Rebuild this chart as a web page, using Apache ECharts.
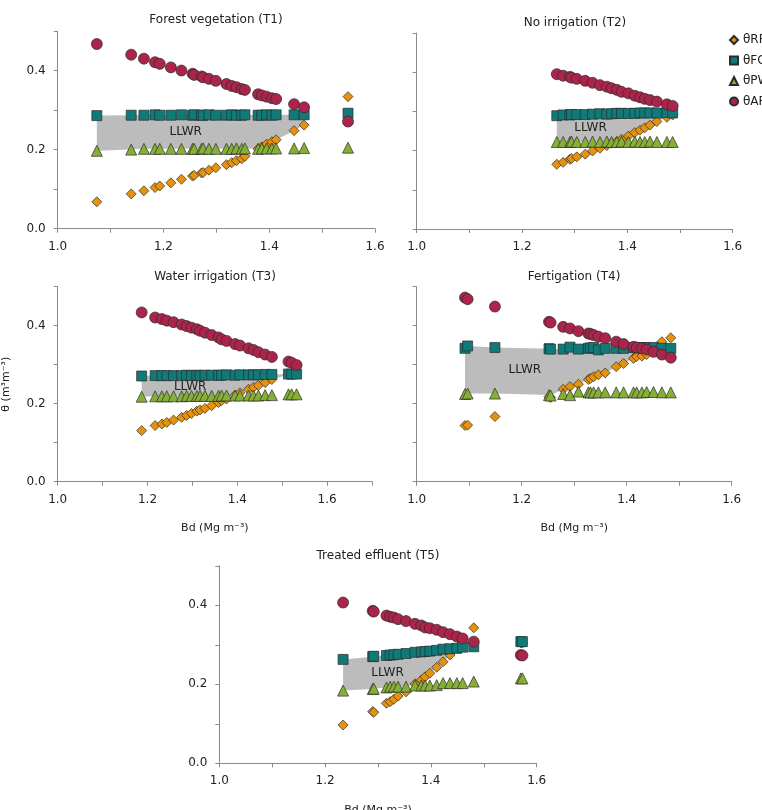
<!DOCTYPE html>
<html>
<head>
<meta charset="utf-8">
<script src="https://cdn.jsdelivr.net/npm/echarts@6/dist/echarts.min.js"></script>
<style>
  html, body { margin: 0; padding: 0; background: #fff; }
  #chart { width: 762px; height: 810px; }
</style>
</head>
<body>
<div id="chart"></div>
<script>
// values (Bd in Mg m-3, theta in m3 m-3)
const legendNames = ["θRP", "θFC", "θPWP", "θAP"];
const panelTitles = ["Forest vegetation (T1)", "No irrigation (T2)", "Water irrigation (T3)", "Fertigation (T4)", "Treated effluent (T5)"];

// T1
const bdT1 = [1.074, 1.139, 1.163, 1.184, 1.193, 1.214, 1.234, 1.255, 1.258, 1.272, 1.275, 1.286, 1.299, 1.319, 1.329, 1.338, 1.348, 1.354, 1.379, 1.386, 1.395, 1.405, 1.413, 1.447, 1.466, 1.549];
const rpT1 = [0.068, 0.088, 0.096, 0.104, 0.108, 0.116, 0.125, 0.133, 0.135, 0.141, 0.142, 0.148, 0.154, 0.162, 0.167, 0.172, 0.177, 0.183, 0.202, 0.207, 0.214, 0.220, 0.225, 0.248, 0.262, 0.334];
const fcT1 = [0.286, 0.287, 0.287, 0.288, 0.287, 0.287, 0.288, 0.287, 0.288, 0.287, 0.287, 0.288, 0.287, 0.287, 0.288, 0.287, 0.287, 0.288, 0.287, 0.287, 0.288, 0.287, 0.288, 0.288, 0.288, 0.292];
const pwpT1 = [0.197, 0.200, 0.202, 0.202, 0.202, 0.202, 0.202, 0.202, 0.202, 0.202, 0.203, 0.202, 0.202, 0.202, 0.202, 0.203, 0.202, 0.203, 0.202, 0.203, 0.203, 0.203, 0.203, 0.203, 0.204, 0.205];
const apT1 = [0.467, 0.440, 0.430, 0.421, 0.417, 0.408, 0.400, 0.392, 0.389, 0.385, 0.383, 0.379, 0.374, 0.366, 0.361, 0.358, 0.353, 0.351, 0.340, 0.337, 0.334, 0.330, 0.328, 0.315, 0.307, 0.271];

// T2
const bdT2 = [1.266, 1.278, 1.291, 1.294, 1.304, 1.320, 1.334, 1.348, 1.361, 1.370, 1.380, 1.389, 1.402, 1.414, 1.424, 1.433, 1.443, 1.456, 1.475, 1.486];
const rpT2 = [0.165, 0.170, 0.178, 0.180, 0.184, 0.191, 0.199, 0.206, 0.213, 0.219, 0.223, 0.229, 0.237, 0.246, 0.252, 0.258, 0.265, 0.274, 0.285, 0.291];
const fcT2 = [0.289, 0.291, 0.291, 0.292, 0.292, 0.292, 0.293, 0.294, 0.293, 0.294, 0.295, 0.295, 0.295, 0.295, 0.296, 0.296, 0.296, 0.296, 0.297, 0.296];
const pwpT2 = [0.222, 0.222, 0.222, 0.223, 0.222, 0.222, 0.223, 0.222, 0.223, 0.222, 0.222, 0.223, 0.222, 0.223, 0.222, 0.222, 0.223, 0.222, 0.222, 0.222];
const apT2 = [0.395, 0.391, 0.388, 0.386, 0.383, 0.378, 0.373, 0.367, 0.363, 0.359, 0.355, 0.350, 0.346, 0.340, 0.336, 0.332, 0.329, 0.325, 0.318, 0.314];

// T3
const bdT3 = [1.187, 1.217, 1.232, 1.243, 1.258, 1.276, 1.287, 1.298, 1.310, 1.317, 1.328, 1.343, 1.358, 1.365, 1.376, 1.395, 1.406, 1.425, 1.436, 1.447, 1.462, 1.477, 1.514, 1.521, 1.532];
const rpT3 = [0.131, 0.144, 0.148, 0.152, 0.158, 0.165, 0.170, 0.175, 0.181, 0.184, 0.188, 0.195, 0.203, 0.208, 0.212, 0.222, 0.228, 0.237, 0.242, 0.247, 0.254, 0.262, 0.274, 0.275, 0.276];
const fcT3 = [0.271, 0.272, 0.272, 0.272, 0.272, 0.272, 0.273, 0.272, 0.273, 0.272, 0.273, 0.273, 0.273, 0.273, 0.274, 0.273, 0.274, 0.274, 0.274, 0.274, 0.275, 0.275, 0.276, 0.276, 0.276];
const pwpT3 = [0.218, 0.219, 0.219, 0.219, 0.219, 0.219, 0.220, 0.220, 0.220, 0.220, 0.220, 0.220, 0.220, 0.221, 0.221, 0.221, 0.221, 0.221, 0.221, 0.221, 0.222, 0.222, 0.224, 0.224, 0.224];
const apT3 = [0.434, 0.421, 0.417, 0.413, 0.409, 0.403, 0.399, 0.395, 0.391, 0.387, 0.382, 0.376, 0.370, 0.365, 0.361, 0.353, 0.349, 0.342, 0.338, 0.332, 0.326, 0.320, 0.308, 0.305, 0.299];

// T4
const bdT4 = [1.092, 1.097, 1.149, 1.252, 1.255, 1.279, 1.292, 1.308, 1.327, 1.331, 1.337, 1.346, 1.359, 1.380, 1.394, 1.413, 1.419, 1.429, 1.438, 1.451, 1.467, 1.484];
const rpT4 = [0.144, 0.145, 0.167, 0.218, 0.216, 0.237, 0.244, 0.250, 0.262, 0.265, 0.269, 0.274, 0.279, 0.295, 0.303, 0.316, 0.321, 0.322, 0.326, 0.338, 0.359, 0.369];
const fcT4 = [0.342, 0.348, 0.344, 0.341, 0.340, 0.340, 0.345, 0.340, 0.342, 0.343, 0.344, 0.338, 0.342, 0.342, 0.342, 0.344, 0.343, 0.344, 0.344, 0.344, 0.342, 0.342];
const pwpT4 = [0.225, 0.226, 0.226, 0.222, 0.221, 0.225, 0.222, 0.231, 0.229, 0.229, 0.229, 0.229, 0.229, 0.229, 0.229, 0.229, 0.229, 0.229, 0.230, 0.230, 0.229, 0.229];
const apT4 = [0.472, 0.468, 0.449, 0.410, 0.408, 0.397, 0.393, 0.386, 0.380, 0.379, 0.376, 0.372, 0.368, 0.359, 0.353, 0.346, 0.344, 0.342, 0.339, 0.333, 0.326, 0.318];

// T5
const bdT5 = [1.234, 1.290, 1.292, 1.316, 1.323, 1.330, 1.338, 1.353, 1.370, 1.382, 1.389, 1.398, 1.411, 1.423, 1.436, 1.449, 1.460, 1.481, 1.570, 1.573];
const rpT5 = [0.097, 0.131, 0.129, 0.152, 0.156, 0.162, 0.170, 0.181, 0.201, 0.211, 0.219, 0.228, 0.243, 0.257, 0.274, 0.291, 0.304, 0.343, 0.305, 0.305];
const fcT5 = [0.263, 0.270, 0.271, 0.273, 0.274, 0.275, 0.276, 0.278, 0.281, 0.282, 0.283, 0.284, 0.286, 0.289, 0.290, 0.291, 0.294, 0.295, 0.308, 0.308];
const pwpT5 = [0.184, 0.188, 0.189, 0.192, 0.194, 0.194, 0.194, 0.194, 0.197, 0.197, 0.197, 0.197, 0.198, 0.203, 0.203, 0.203, 0.203, 0.207, 0.215, 0.215];
const apT5 = [0.407, 0.386, 0.384, 0.374, 0.371, 0.369, 0.365, 0.360, 0.353, 0.349, 0.344, 0.342, 0.338, 0.332, 0.327, 0.321, 0.316, 0.308, 0.274, 0.273];

const FONT = "DejaVu Sans";

// layout of each small chart
const panels = [
  { bd: bdT1, rp: rpT1, fc: fcT1, pwp: pwpT1, ap: apT1, grid: { left: 57.7, top: 31, width: 317.3, height: 197.7 }, xMax: 1.6, yLabels: true, xName: false, yName: false, titleX: 216, titleY: 14, labelAt: [1.242, 0.246] },
  { bd: bdT2, rp: rpT2, fc: fcT2, pwp: pwpT2, ap: apT2, grid: { left: 416.7, top: 33, width: 316, height: 196 }, xMax: 1.6, yLabels: false, xName: false, yName: false, titleX: 575, titleY: 17, labelAt: [1.330, 0.257] },
  { bd: bdT3, rp: rpT3, fc: fcT3, pwp: pwpT3, ap: apT3, grid: { left: 57.7, top: 286.7, width: 314.3, height: 195 }, xMax: 1.7, yLabels: true, xName: true, yName: true, titleX: 215, titleY: 271, labelAt: [1.295, 0.244] },
  { bd: bdT4, rp: rpT4, fc: fcT4, pwp: pwpT4, ap: apT4, grid: { left: 416.7, top: 286.7, width: 315, height: 195 }, xMax: 1.6, yLabels: false, xName: true, yName: false, titleX: 574, titleY: 271, labelAt: [1.206, 0.286] },
  { bd: bdT5, rp: rpT5, fc: fcT5, pwp: pwpT5, ap: apT5, grid: { left: 219.3, top: 565.8, width: 317.4, height: 197.5 }, xMax: 1.6, yLabels: true, xName: true, yName: false, titleX: 378, titleY: 550, labelAt: [1.318, 0.230] }
];

const markerStyles = [
  { symbol: "diamond", size: 10, color: "#E5920E" },
  { symbol: "rect", size: 10, color: "#107A79" },
  { symbol: "triangle", size: 11, color: "#86AF36" },
  { symbol: "circle", size: 11, color: "#AB244B" }
];

// upper limit = min(FC, AP), lower limit = max(PWP, RP)
function llwrBounds(p) {
  const upper = [], lower = [];
  for (let i = 0; i < p.bd.length; i++) {
    const u = Math.min(p.fc[i], p.ap[i]);
    const l = Math.max(p.pwp[i], p.rp[i]);
    if (u <= l) {
      if (upper.length) break;
      continue;
    }
    upper.push([p.bd[i], u]);
    lower.push([p.bd[i], l]);
  }
  return { upper, lower };
}

const axisGray = "#8a8a8a";
const evenTenth = (v) => (Math.round(v * 10) % 2 === 0 ? v.toFixed(1) : "");

const grids = [], xAxes = [], yAxes = [], titles = [], series = [];

panels.forEach((p, i) => {
  // keep the grids exactly where they are set, even if a name runs off the page
  grids.push(Object.assign({ containLabel: false, outerBoundsMode: "none" }, p.grid));
  titles.push({
    text: panelTitles[i], left: p.titleX, top: p.titleY, textAlign: "center", padding: 0,
    textStyle: { fontSize: 12, fontWeight: "normal", color: "#222", fontFamily: FONT }
  });
  xAxes.push({
    type: "value", gridIndex: i, min: 1, max: p.xMax, interval: 0.1,
    axisLine: { show: true, onZero: false, lineStyle: { color: axisGray } },
    axisTick: { show: true, length: 4, lineStyle: { color: axisGray } },
    axisLabel: { formatter: evenTenth, margin: 12, fontSize: 12, color: "#222", fontFamily: FONT },
    splitLine: { show: false },
    name: p.xName ? "Bd (Mg m⁻³)" : "", nameLocation: "middle", nameGap: 41,
    nameTextStyle: { fontSize: 11, color: "#222", fontFamily: FONT }
  });
  yAxes.push({
    type: "value", gridIndex: i, min: 0, max: 0.5, interval: 0.1,
    axisLine: { show: true, onZero: false, lineStyle: { color: axisGray } },
    axisTick: { show: true, length: 4, lineStyle: { color: axisGray } },
    axisLabel: { show: p.yLabels, formatter: evenTenth, margin: 12, fontSize: 12, color: "#222", fontFamily: FONT },
    splitLine: { show: false },
    name: p.yName ? "θ (m³m⁻³)" : "", nameLocation: "middle", nameRotate: 90, nameGap: 46,
    nameTextStyle: { fontSize: 11, color: "#222", fontFamily: FONT }
  });

  const b = llwrBounds(p);
  series.push({
    type: "custom", xAxisIndex: i, yAxisIndex: i, z: 1, silent: true,
    data: [[p.bd[0], p.fc[0]]],
    renderItem: function (params, api) {
      const pts = b.upper.map((q) => api.coord(q))
        .concat(b.lower.slice().reverse().map((q) => api.coord(q)));
      const c = api.coord(p.labelAt);
      return {
        type: "group",
        children: [
          { type: "polygon", shape: { points: pts }, style: { fill: "#bcbcbc" } },
          { type: "text", x: c[0], y: c[1], style: { text: "LLWR", fill: "#222", font: "12px " + FONT, align: "center", verticalAlign: "middle" } }
        ]
      };
    }
  });

  [p.rp, p.fc, p.pwp, p.ap].forEach((vals, k) => {
    const m = markerStyles[k];
    series.push({
      name: legendNames[k], type: "scatter", xAxisIndex: i, yAxisIndex: i, z: 2 + k,
      symbol: m.symbol, symbolSize: m.size,
      itemStyle: { color: m.color, borderColor: "#2b2b2b", borderWidth: 0.7, opacity: 1 },
      data: p.bd.map((x, j) => [x, vals[j]])
    });
  });
});

const chart = echarts.init(document.getElementById("chart"), null, { renderer: "canvas" });
chart.setOption({
  animation: false,
  backgroundColor: "#fff",
  title: titles,
  legend: {
    data: legendNames, orient: "vertical", left: 729, top: 34, padding: 0,
    itemWidth: 8, itemHeight: 8, itemGap: 8.5, selectedMode: false,
    textStyle: { fontSize: 12, color: "#222", fontFamily: FONT }
  },
  grid: grids,
  xAxis: xAxes,
  yAxis: yAxes,
  series: series
});
</script>
</body>
</html>
